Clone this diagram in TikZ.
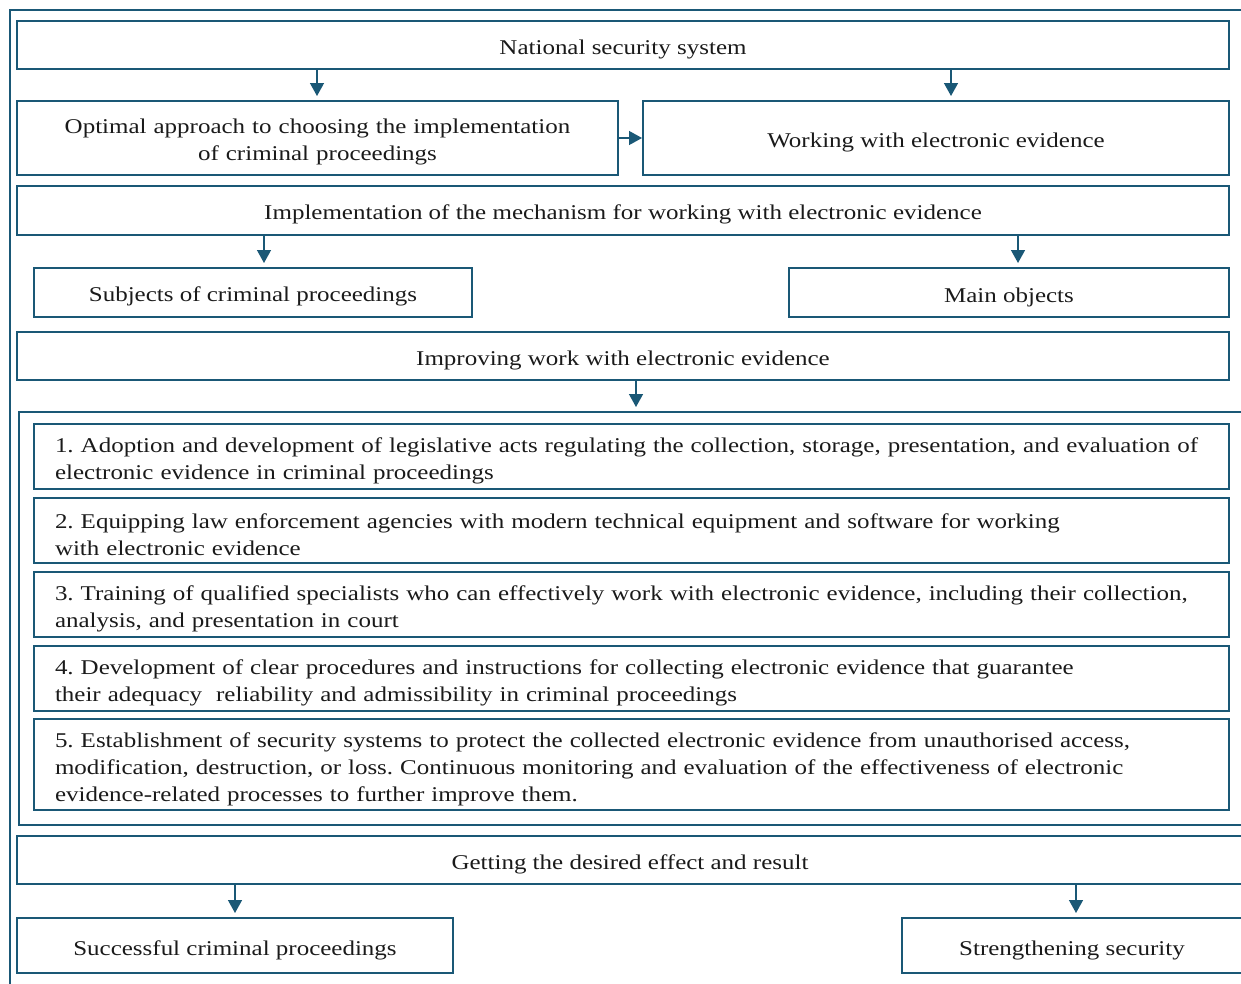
\documentclass[tikz,border=0pt]{standalone}
\usepackage{fontspec}
\setmainfont[FakeStretch=1.19]{Liberation Serif}
\usetikzlibrary{arrows.meta}
\definecolor{lc}{HTML}{1A5876}
\definecolor{tc}{HTML}{1A1A1A}
\newcommand{\mystrut}{\rule{0pt}{23.5pt}}
\frenchspacing
\begin{document}
\begin{tikzpicture}[x=1pt,y=-1pt,
  box/.style={draw=lc, line width=1.4pt, anchor=north west, inner sep=0pt, outer sep=0pt,
    text=tc, align=center, font=\fontsize{21}{27}\selectfont,
    execute at begin node=\mystrut},
  item/.style={box, align=left, text width=1153pt, inner xsep=21pt, minimum width=1195pt},
  arr/.style={draw=lc, line width=1.4pt, -{Triangle[length=13pt,width=14pt]}, shorten >=5pt},
  frame/.style={draw=lc, line width=1.4pt}]
\useasboundingbox (0,0) rectangle (1241,983);
\clip (0,0) rectangle (1241,983);
% outer frame
\draw[frame] (10,1000) -- (10,10) -- (1260,10);
% boxes
\node[box, minimum width=1212pt, minimum height=48pt] (b1) at (17,21) {National security system};
\node[box, text width=580pt, inner xsep=10.5pt, minimum width=601pt, minimum height=74pt] (b2) at (17,101) {Optimal approach to choosing the implementation\\of criminal proceedings};
\node[box, minimum width=586pt, minimum height=74pt] (b3) at (643,101) {Working with electronic evidence};
\node[box, minimum width=1212pt, minimum height=49pt] (b4) at (17,186) {Implementation of the mechanism for working with electronic evidence};
\node[box, minimum width=438pt, minimum height=49pt] (b5) at (34,268) {Subjects of criminal proceedings};
\node[box, minimum width=440pt, minimum height=49pt] (b6) at (789,268) {Main objects};
\node[box, minimum width=1212pt, minimum height=48pt] (b7) at (17,332) {Improving work with electronic evidence};
% inner frame
\draw[frame] (1260,412) -- (19,412) -- (19,825) -- (1260,825);
\coordinate (fr) at (636,412);
% items
\node[item, minimum height=65pt] (i1) at (34,424) {1. Adoption and development of legislative acts regulating the collection, storage, presentation, and evaluation of\\electronic evidence in criminal proceedings};
\node[item, minimum height=65pt] (i2) at (34,498) {2. Equipping law enforcement agencies with modern technical equipment and software for working\\with electronic evidence};
\node[item, minimum height=65pt] (i3) at (34,572) {3. Training of qualified specialists who can effectively work with electronic evidence, including their collection,\\analysis, and presentation in court};
\node[item, minimum height=65pt] (i4) at (34,646) {4. Development of clear procedures and instructions for collecting electronic evidence that guarantee\\their adequacy\ \ reliability and admissibility in criminal proceedings};
\node[item, minimum height=91pt] (i5) at (34,719) {5. Establishment of security systems to protect the collected electronic evidence from unauthorised access,\\modification, destruction, or loss. Continuous monitoring and evaluation of the effectiveness of electronic\\evidence-related processes to further improve them.};
% bottom
\node[box, minimum width=1226pt, minimum height=48pt] (b8) at (17,836) {Getting the desired effect and result};
\node[box, minimum width=436pt, minimum height=55pt] (b9) at (17,918) {Successful criminal proceedings};
\node[box, minimum width=340pt, minimum height=55pt] (b10) at (902,918) {Strengthening security};
% arrow x positions
\coordinate (x1) at (317,0);
\coordinate (x2) at (951,0);
\coordinate (x3) at (264,0);
\coordinate (x4) at (1018,0);
\coordinate (x5) at (636,0);
\coordinate (x6) at (235,0);
\coordinate (x7) at (1076,0);
\coordinate (y1) at (0,138);
% arrows
\draw[arr] (b1.south -| x1) -- (b2.north -| x1);
\draw[arr] (b1.south -| x2) -- (b3.north -| x2);
\draw[arr, shorten >=1pt] (b2.east |- y1) -- (b3.west |- y1);
\draw[arr] (b4.south -| x3) -- (b5.north -| x3);
\draw[arr] (b4.south -| x4) -- (b6.north -| x4);
\draw[arr] (b7.south -| x5) -- (fr);
\draw[arr] (b8.south -| x6) -- (b9.north -| x6);
\draw[arr] (b8.south -| x7) -- (b10.north -| x7);
\end{tikzpicture}
\end{document}
